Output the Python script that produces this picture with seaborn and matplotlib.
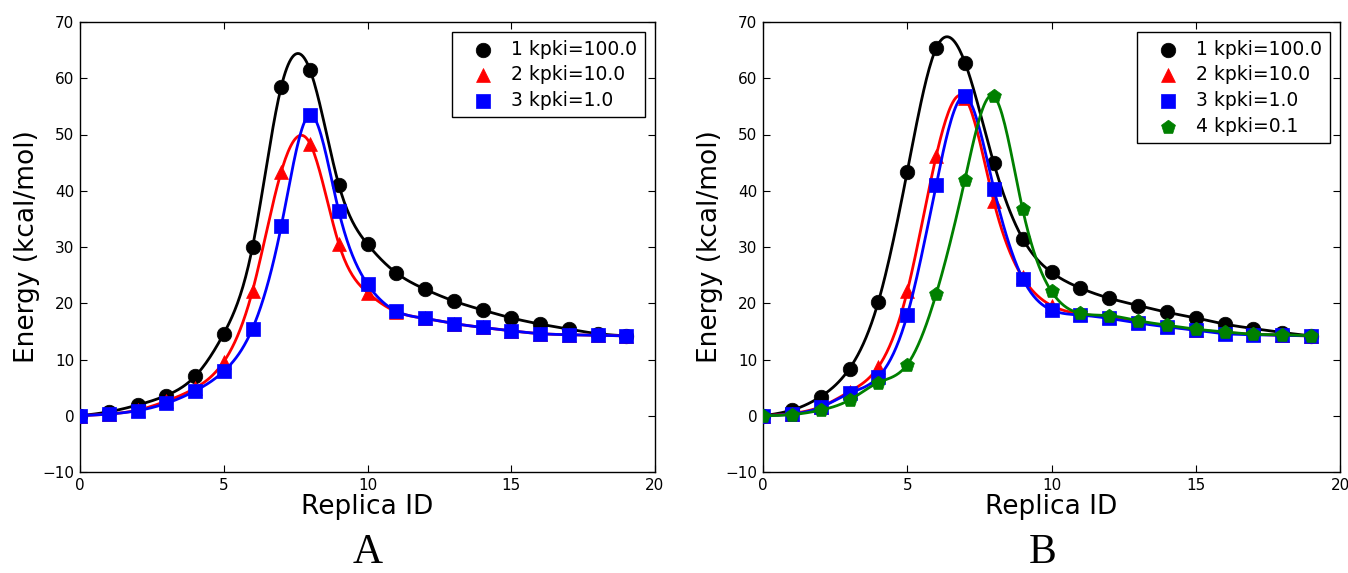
import numpy as np
import pandas as pd
import matplotlib
matplotlib.use("Agg")
import matplotlib.pyplot as plt
import seaborn as sns

# ---------------- data ----------------
replica = list(range(20))

# Panel A
a_kpki100 = [0.0, 0.7, 1.9, 3.6, 7.0, 14.6, 30.0, 58.5, 61.5, 41.1, 30.5, 25.4, 22.5, 20.4, 18.8, 17.4, 16.3, 15.4, 14.6, 14.2]
a_kpki10 = [0.0, 0.3, 1.0, 2.6, 4.9, 9.6, 22.2, 43.4, 48.4, 30.6, 21.9, 18.5, 17.3, 16.4, 15.7, 15.1, 14.6, 14.4, 14.3, 14.2]
a_kpki1 = [0.0, 0.3, 0.9, 2.2, 4.4, 7.9, 15.5, 33.7, 53.5, 36.4, 23.4, 18.6, 17.3, 16.4, 15.7, 15.1, 14.6, 14.4, 14.3, 14.2]

# Panel B
b_kpki100 = [0.0, 1.0, 3.4, 8.4, 20.3, 43.4, 65.3, 62.8, 44.9, 31.5, 25.5, 22.7, 20.9, 19.6, 18.4, 17.4, 16.3, 15.5, 14.8, 14.2]
b_kpki10 = [0.0, 0.4, 1.6, 4.3, 8.7, 22.1, 46.1, 56.5, 38.1, 24.6, 19.6, 18.1, 17.5, 16.7, 15.9, 15.3, 14.8, 14.5, 14.3, 14.2]
b_kpki1 = [0.0, 0.3, 1.5, 4.0, 6.9, 17.9, 41.0, 56.8, 40.4, 24.4, 18.8, 17.9, 17.3, 16.5, 15.8, 15.2, 14.6, 14.4, 14.3, 14.2]
b_kpki01 = [0.0, 0.2, 1.0, 2.8, 5.9, 9.1, 21.6, 42.0, 56.8, 36.7, 22.1, 18.2, 17.8, 16.9, 16.1, 15.4, 14.9, 14.5, 14.4, 14.2]

labels = ["1 kpki=100.0", "2 kpki=10.0", "3 kpki=1.0", "4 kpki=0.1"]
colors = ["#000000", "#ff0000", "#0000ff", "#008000"]
markers = ["o", "^", "s", "p"]

xticks = [0, 5, 10, 15, 20]
yticks = [-10, 0, 10, 20, 30, 40, 50, 60, 70]


def natural_spline(x, y, n=400):
    """Natural cubic spline through the data points (for drawing the smooth line)."""
    x = np.asarray(x, float)
    y = np.asarray(y, float)
    m = len(x)
    h = np.diff(x)
    A = np.zeros((m, m))
    r = np.zeros(m)
    A[0, 0] = 1
    A[-1, -1] = 1
    for i in range(1, m - 1):
        A[i, i - 1] = h[i - 1]
        A[i, i] = 2 * (h[i - 1] + h[i])
        A[i, i + 1] = h[i]
        r[i] = 6 * ((y[i + 1] - y[i]) / h[i] - (y[i] - y[i - 1]) / h[i - 1])
    M = np.linalg.solve(A, r)
    xs = np.linspace(x[0], x[-1], n)
    idx = np.clip(np.searchsorted(x, xs) - 1, 0, m - 2)
    x0, x1 = x[idx], x[idx + 1]
    hh = x1 - x0
    t0 = x1 - xs
    t1 = xs - x0
    ys = (M[idx] * t0 ** 3 / (6 * hh) + M[idx + 1] * t1 ** 3 / (6 * hh)
          + (y[idx] / hh - M[idx] * hh / 6) * t0
          + (y[idx + 1] / hh - M[idx + 1] * hh / 6) * t1)
    return xs, ys


sns.set_theme(style="white")
plt.rcParams["font.family"] = ["DejaVu Sans"]
plt.rcParams["axes.edgecolor"] = "black"
plt.rcParams["axes.linewidth"] = 1.0
plt.rcParams["text.color"] = "black"
plt.rcParams["axes.labelcolor"] = "black"
plt.rcParams["xtick.color"] = "black"
plt.rcParams["ytick.color"] = "black"

fig = plt.figure(figsize=(13.48, 5.73), dpi=100)
axA = fig.add_axes([80 / 1348, 1 - 472 / 573, 575 / 1348, 450 / 573])
axB = fig.add_axes([763 / 1348, 1 - 472 / 573, 577 / 1348, 450 / 573])


def draw_panel(ax, series):
    for k, ys in enumerate(series):
        xs, ss = natural_spline(replica, ys)
        sns.lineplot(x=xs, y=ss, ax=ax, color=colors[k], linewidth=2.0,
                     sort=False, estimator=None, zorder=2 + k * 2, legend=False)
        sns.scatterplot(x=replica, y=ys, ax=ax, color=colors[k], marker=markers[k],
                        s=110 if markers[k] != "^" else 100,
                        edgecolor=colors[k], linewidth=0.5, zorder=3 + k * 2,
                        label=labels[k])
    ax.set_xlim(0, 20)
    ax.set_ylim(-10, 70)
    ax.set_xticks(xticks)
    ax.set_yticks(yticks)
    ax.set_xticklabels([str(v) for v in xticks])
    ax.set_yticklabels([("\u2212" + str(-v)) if v < 0 else str(v) for v in yticks])
    ax.tick_params(direction="in", length=5, width=0.8, top=True, right=True,
                   bottom=True, left=True, labelsize=11, pad=4,
                   colors="black", labelcolor="black")
    for sp in ax.spines.values():
        sp.set_color("black")
        sp.set_linewidth(1.0)
    ax.set_xlabel("Replica ID", fontsize=19, labelpad=1, color="black")
    ax.set_ylabel("Energy (kcal/mol)", fontsize=19, labelpad=2, color="black")
    leg = ax.legend(loc="upper right", fontsize=13.5, frameon=True, fancybox=False,
                    edgecolor="black", framealpha=1, handletextpad=0.25,
                    borderpad=0.4, labelspacing=0.35, borderaxespad=0.55,
                    handlelength=2.5, labelcolor="black")
    leg.get_frame().set_linewidth(1.0)


draw_panel(axA, [a_kpki100, a_kpki10, a_kpki1])
draw_panel(axB, [b_kpki100, b_kpki10, b_kpki1, b_kpki01])

fig.text(368 / 1348, 1 - 553 / 573, "A", family="Liberation Serif", fontsize=30,
         ha="center", va="center", color="black")
fig.text(1043 / 1348, 1 - 553 / 573, "B", family="Liberation Serif", fontsize=30,
         ha="center", va="center", color="black")

fig.savefig("out.png", dpi=100)
